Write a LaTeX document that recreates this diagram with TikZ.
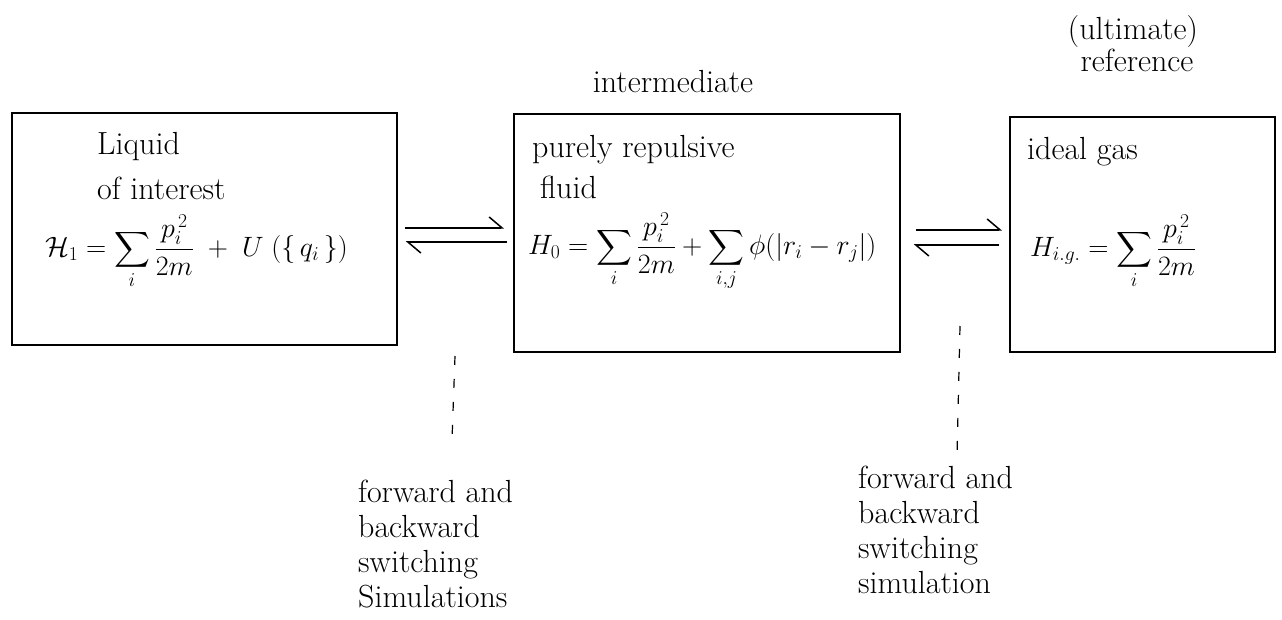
\RequirePackage{fix-cm}
\documentclass[tikz,border=0pt]{standalone}
\usepackage{amsmath}
\usepackage{fontspec}
\usetikzlibrary{arrows.meta}
\begin{document}
\begin{tikzpicture}[x=1pt,y=-1pt,
  stagebox/.style={draw, line width=1.6pt, inner sep=0pt},
  hw/.style={font=\fontsize{32}{35}\selectfont\addfontfeatures{LetterSpace=3}, inner sep=0pt},
  fml/.style={font=\fontsize{28}{32}\selectfont, inner sep=0pt},
  harp/.style={line width=1.5pt, -{Straight Barb[harpoon, length=13pt, width=22pt]}},
  dashline/.style={line width=1.2pt, dash pattern=on 9pt off 14pt}]
\useasboundingbox (0,0) rectangle (1282,620);

% boxes
\node[stagebox, minimum width=385pt, minimum height=232pt] (b1) at (204.5,229) {};
\node[stagebox, minimum width=386pt, minimum height=238pt] (b2) at (707,233) {};
\node[stagebox, minimum width=265pt, minimum height=235pt] (b3) at (1142.5,234.5) {};

% box contents
\node[hw, anchor=base west] (t1a) at (97,155) {Liquid};
\node[hw, anchor=base west] (t1b) at (97,200) {of interest};
\node[fml, anchor=west] (f1) at (45,252) {$\displaystyle \mathcal{H}_1 = \sum\limits_i \frac{p_i^{\,2}}{2m} \;+\; U\;(\{\,q_i\,\})$};

\node[hw, anchor=base west] (t2a) at (532,158) {purely repulsive};
\node[hw, anchor=base west] (t2b) at (540,199) {fluid};
\node[fml, anchor=west] (f2) at (528,252) {$\displaystyle H_0 = \sum\limits_i \frac{p_i^{\,2}}{2m} + \sum\limits_{i,j} \phi(|r_i-r_j|)$};

\node[hw, anchor=base west] (t3a) at (1027,160) {ideal gas};
\node[fml, anchor=west] (f3) at (1030,252) {$\displaystyle H_{i.g.} = \sum\limits_i \frac{p_i^{\,2}}{2m}$};

% titles above
\node[hw, anchor=base] (tint) at (673,93) {intermediate};
\node[hw, anchor=base] (tult) at (1133,40) {(ultimate)};
\node[hw, anchor=base] (tref) at (1137,72) {reference};

% equilibrium harpoons
\draw[harp] ([xshift=7pt,yshift=1pt]b1.east) -- ([xshift=-9pt,yshift=5pt]b2.west);
\draw[harp] ([xshift=-6pt,yshift=-9pt]b2.west) -- ([xshift=8pt,yshift=-13pt]b1.east);
\draw[harp] ([xshift=15pt,yshift=3pt]b2.east) -- ([xshift=-7pt,yshift=4.5pt]b3.west);
\draw[harp] ([xshift=-10pt,yshift=-10.5pt]b3.west) -- ([xshift=13pt,yshift=-12pt]b2.east);

% labels
\node[hw, anchor=north west, align=left] (lab1) at (358,480) {forward and\\backward\\switching\\Simulations};
\node[hw, anchor=north west, align=left] (lab2) at (858,466) {forward and\\backward\\switching\\simulation};

% dashed pointers
\coordinate (d1a) at (455,356);
\coordinate (d1b) at (452,440);
\coordinate (d2a) at (960,326);
\coordinate (d2b) at (957,456);
\draw[dashline] (d1a) -- (d1b);
\draw[dashline] (d2a) -- (d2b);
\end{tikzpicture}
\end{document}
